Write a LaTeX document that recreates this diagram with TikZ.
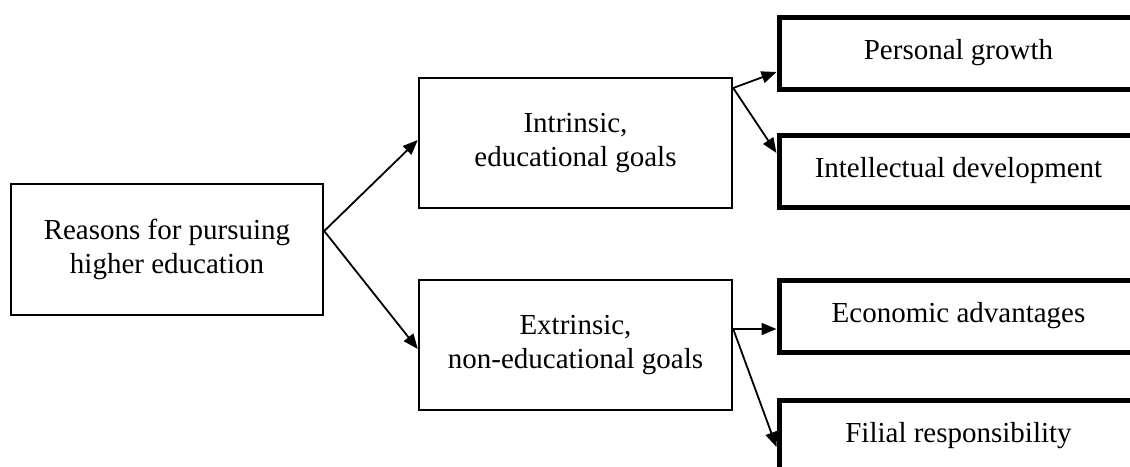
\documentclass[tikz,border=0pt]{standalone}
\usepackage{fontspec}
\setmainfont{Liberation Serif}
\usetikzlibrary{arrows.meta}
\tikzset{
  thinbox/.style={draw, line width=2.4pt, inner sep=0pt, align=center, font=\fontsize{29}{34}\selectfont},
  thickbox/.style={draw, line width=5pt, inner sep=0pt, align=center, font=\fontsize{29}{34}\selectfont},
  arr/.style={line width=1.8pt, -{Triangle[length=15pt,width=12pt]}}
}
\begin{document}
\begin{tikzpicture}[x=1pt,y=-1pt]
\useasboundingbox (0,0) rectangle (1130,466);
\clip (0,0) rectangle (1130,466);
\node[thinbox, minimum width=312pt, minimum height=131pt] (reasons) at (167,249.5) {Reasons for pursuing\\higher education};
\node[thinbox, minimum width=313pt, minimum height=130pt] (intr) at (575.5,143) {Intrinsic,\\educational goals};
\node[thinbox, minimum width=313pt, minimum height=130pt] (extr) at (575.5,345) {Extrinsic,\\non-educational goals};
\node[thickbox, minimum width=359pt, minimum height=72pt] (pers) at (958.5,53) {Personal growth};
\node[thickbox, minimum width=359pt, minimum height=72pt] (intel) at (958.5,171) {Intellectual development};
\node[thickbox, minimum width=359pt, minimum height=72pt] (econ) at (958.5,316) {Economic advantages};
\node[thickbox, minimum width=359pt, minimum height=72pt] (fil) at (958.5,436) {Filial responsibility};
\coordinate (r0) at (reasons.east |- 0,231);
\coordinate (i0) at (intr.east |- 0,88);
\coordinate (e0) at (extr.east |- 0,329);
\draw[arr] (r0) -- (intr.west |- 0,140);
\draw[arr] (r0) -- (extr.west |- 0,349);
\draw[arr] (i0) -- (pers.west |- 0,72);
\draw[arr] (i0) -- (intel.west |- 0,153);
\draw[arr] (e0) -- (econ.west |- 0,329);
\draw[arr] (e0) -- (fil.west |- 0,447);
\end{tikzpicture}
\end{document}
